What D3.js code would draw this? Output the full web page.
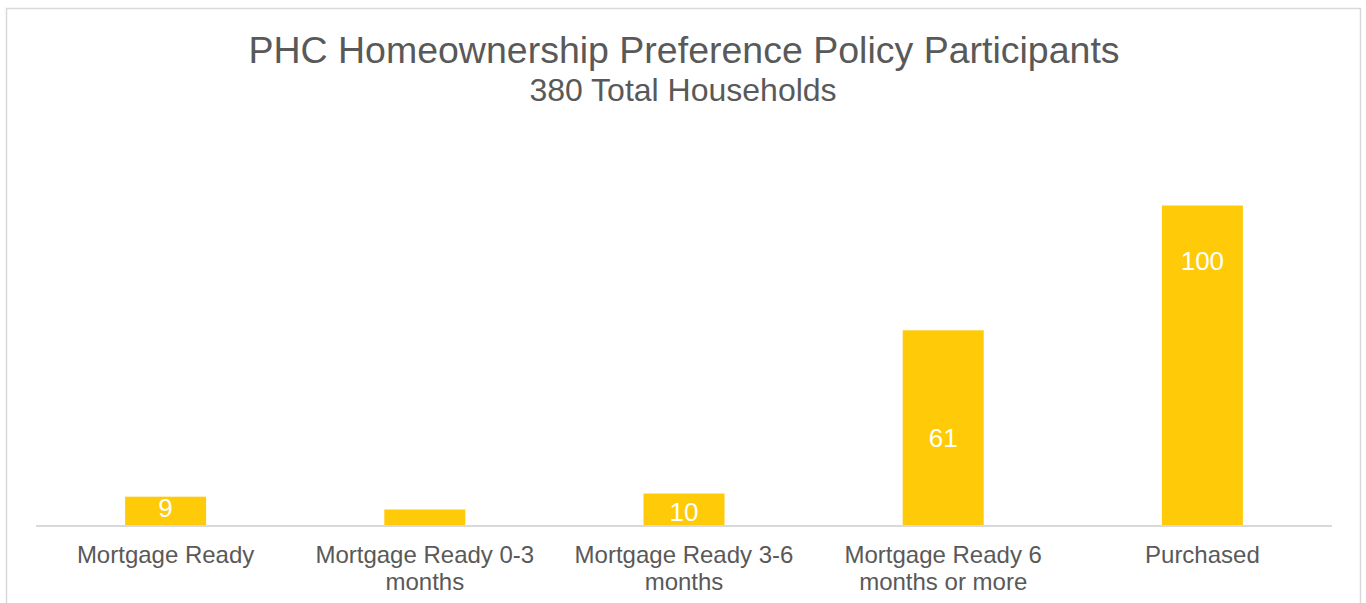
<!DOCTYPE html>
<html>
<head>
<meta charset="utf-8">
<script src="https://cdn.jsdelivr.net/npm/d3@7"></script>
<style>
  html, body { margin: 0; padding: 0; background: #fff; }
  svg { display: block; font-family: "Liberation Sans", Arial, sans-serif; }
</style>
</head>
<body>
<svg id="chart" width="1366" height="603"></svg>
<script>
const title = "PHC Homeownership Preference Policy Participants";
const subtitle = "380 Total Households";
const categories = [
  ["Mortgage Ready"],
  ["Mortgage Ready 0-3", "months"],
  ["Mortgage Ready 3-6", "months"],
  ["Mortgage Ready 6", "months or more"],
  ["Purchased"]
];
const values = [9, 5, 10, 61, 100];
const valueLabels = ["9", "", "10", "61", "100"];
// where each value label sits, in data units along the value axis
const labelAnchors = [5.5, 0, 4.2, 27.3, 82.7];

const svg = d3.select("#chart");

// outer frame
svg.append("rect")
  .attr("x", 6.5).attr("y", 8.5)
  .attr("width", 1354).attr("height", 640)
  .attr("fill", "#fff")
  .attr("stroke", "#d9d9d9").attr("stroke-width", 1.5);

const left = 36, right = 1332, baseY = 525.5;
const idx = d3.range(categories.length);

const x = d3.scaleBand()
  .domain(idx)
  .range([left, right])
  .paddingInner(0.6875)
  .paddingOuter(0.34375);

const y = d3.scaleLinear()
  .domain([0, 120])
  .range([baseY, baseY - 384]);

svg.append("g").selectAll("rect")
  .data(idx)
  .join("rect")
  .attr("x", i => x(i))
  .attr("width", x.bandwidth())
  .attr("y", i => y(values[i]))
  .attr("height", i => y(0) - y(values[i]))
  .attr("fill", "#FFCA08");

// axis line
svg.append("line")
  .attr("x1", left).attr("x2", right)
  .attr("y1", baseY + 0.5).attr("y2", baseY + 0.5)
  .attr("stroke", "#d9d9d9").attr("stroke-width", 2);

// value labels
svg.append("g").selectAll("text")
  .data(idx.filter(i => valueLabels[i] !== ""))
  .join("text")
  .attr("x", i => x(i) + x.bandwidth() / 2)
  .attr("y", i => y(labelAnchors[i]))
  .attr("dy", "0.35em")
  .attr("text-anchor", "middle")
  .attr("fill", "#ffffff")
  .attr("font-size", "26px")
  .text(i => valueLabels[i]);

// category labels
const cat = svg.append("g").selectAll("text")
  .data(idx)
  .join("text")
  .attr("text-anchor", "middle")
  .attr("fill", "#595959")
  .attr("font-size", "24px")
  .attr("transform", i => `translate(${x(i) + x.bandwidth() / 2},563)`);
cat.selectAll("tspan")
  .data(i => categories[i])
  .join("tspan")
  .attr("x", 0)
  .attr("y", (d, j) => j * 27)
  .text(d => d);

// titles
svg.append("text")
  .attr("x", 684).attr("y", 63)
  .attr("text-anchor", "middle")
  .attr("fill", "#595959")
  .attr("font-size", "37.5px")
  .text(title);
svg.append("text")
  .attr("x", 683).attr("y", 101)
  .attr("text-anchor", "middle")
  .attr("fill", "#595959")
  .attr("font-size", "32px")
  .text(subtitle);
</script>
</body>
</html>
